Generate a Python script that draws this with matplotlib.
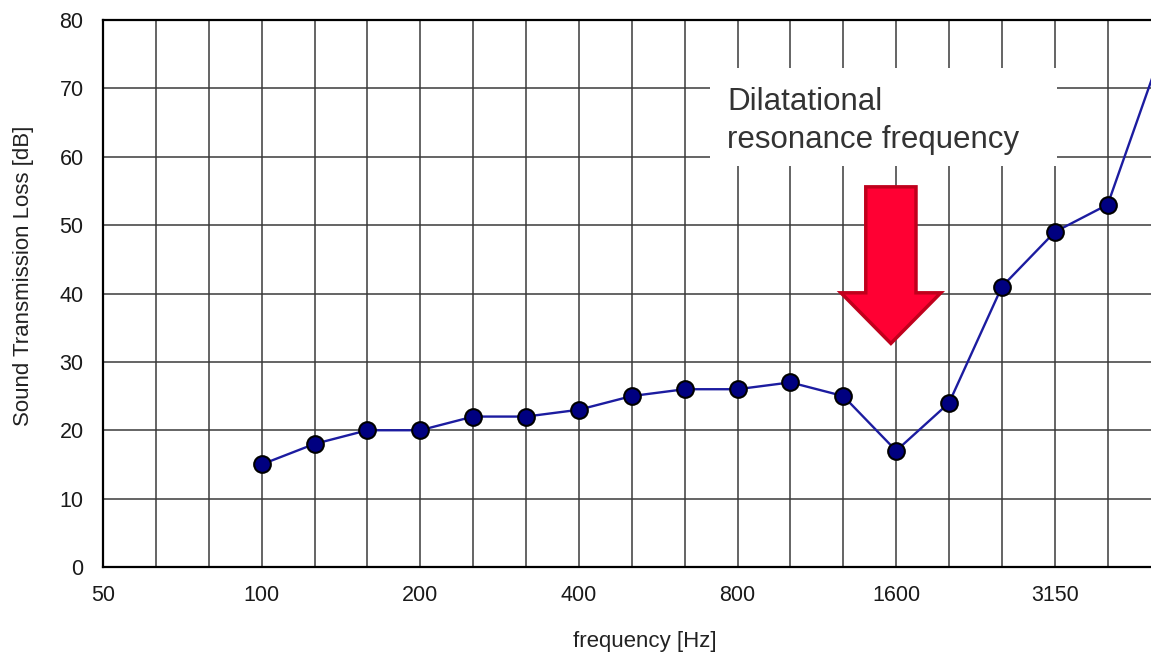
import matplotlib
matplotlib.use('Agg')
from matplotlib import pyplot as plt
from matplotlib.patches import Rectangle
import numpy as np

plt.rcParams['font.family'] = ['Liberation Sans', 'DejaVu Sans']

# third-octave bands, 50 Hz .. 5000 Hz
bands = ['50', '63', '80', '100', '125', '160', '200', '250', '315', '400', '500',
         '630', '800', '1000', '1250', '1600', '2000', '2500', '3150', '4000', '5000']
tick_bands = ['50', '100', '200', '400', '800', '1600', '3150']

# measured transmission loss, 100 Hz .. 5000 Hz
meas_bands = ['100', '125', '160', '200', '250', '315', '400', '500', '630', '800',
              '1000', '1250', '1600', '2000', '2500', '3150', '4000', '5000']
tl = [15, 18, 20, 20, 22, 22, 23, 25, 26, 26, 27, 25, 17, 24, 41, 49, 53, 75]

resonance_band = '1600'

idx = {b: i for i, b in enumerate(bands)}
xpos = np.array([idx[b] for b in meas_bands])

fig = plt.figure(figsize=(11.51, 6.53), dpi=100)
# axes runs past the right edge of the figure, so the last band is cut off
ax = fig.add_axes([103/1151, 86/653, 1084/1151, 547/653])

ax.plot(xpos, tl, color='#1c1ca0', lw=1.7, marker='o', ms=12,
        mfc='#000080', mec='black', mew=1.5, zorder=4)

ax.set_xlim(0, 20.5)
ax.set_ylim(0, 80)
ax.set_xticks(np.arange(len(bands)), minor=True)
ax.set_xticks([idx[b] for b in tick_bands])
ax.set_xticklabels(tick_bands)
ax.set_yticks(np.arange(0, 81, 10))
ax.grid(True, which='both', axis='x', color='#3a3a3a', lw=1.1)
ax.grid(True, which='major', axis='y', color='#3a3a3a', lw=1.1)
ax.set_axisbelow(True)
ax.tick_params(which='both', length=0, labelsize=15.5, labelcolor='#1a1a1a')
ax.tick_params(axis='x', pad=13)
ax.tick_params(axis='y', pad=14)
for s in ax.spines.values():
    s.set_linewidth(1.6)
    s.set_color('black')

ax.set_ylabel('Sound Transmission Loss [dB]', fontsize=16, color='#222222')
ax.yaxis.set_label_coords(-0.064, 0.532)
ax.set_xlabel('frequency [Hz]', fontsize=16, color='#222222', labelpad=18)

# label and arrow pointing at the dilatational resonance dip
ax.add_patch(Rectangle((11.47, 58.6), 6.58, 14.35, facecolor='white',
                       edgecolor='none', zorder=5))
ax.text(11.81, 65.25, 'Dilatational\nresonance frequency', fontsize=22.5, color='#333333',
        ha='left', va='center', linespacing=1.32, zorder=6)
rx = idx[resonance_band] - 0.1
ax.arrow(rx, 55.6, 0, -22.9, width=0.95, head_width=1.89, head_length=7.4,
         length_includes_head=True, fc='#ff0033', ec='#c0001c', lw=2.5, zorder=6)

plt.savefig('out.png', dpi=100)
